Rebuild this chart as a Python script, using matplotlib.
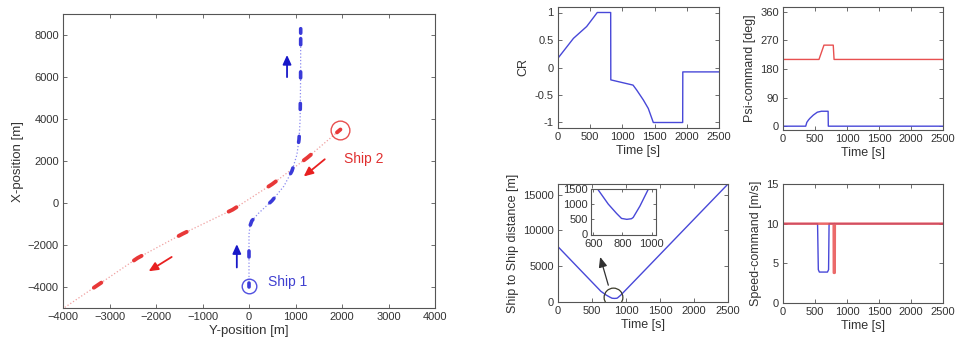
import numpy as np
import matplotlib
matplotlib.use("Agg")
import matplotlib.pyplot as plt

plt.rcParams['font.family'] = ['Liberation Sans', 'DejaVu Sans']

# ---------------- data ----------------
# Ship 1 (blue) trajectory: Y-position, X-position [m]
ship1_Y = [0, 0, 20, 60, 200, 495, 750, 925, 1030, 1076, 1100, 1110, 1112]
ship1_X = [-4000, -1500, -1100, -850, -500, 110, 800, 1530, 2300, 3030, 4000, 6000, 8300]
ship1_marks_X = [-3970, -2414, -914, 110, 1530, 3030, 4600, 6100, 7680, 8230]

# Ship 2 (red) trajectory
ship2_Y = [1966, 1256, 500, -351, -1427, -2395, -3256, -3865, -4000]
ship2_X = [3500, 2161, 900, -317, -1467, -2617, -3913, -4827, -5030]
ship2_marks_Y = [1966, 1256, 500, -351, -1427, -2395, -3256]

# CR vs time
cr_t = [0, 240, 445, 610, 818, 820, 1165, 1222, 1325, 1402, 1480, 1936, 1938, 2500]
cr_v = [0.17, 0.53, 0.745, 1.0, 1.0, -0.225, -0.32, -0.41, -0.59, -0.745, -1.0, -1.0, -0.08, -0.08]

# Psi-command [deg]
psi1_t = [0, 355, 372, 400, 422, 474, 536, 600, 705, 708, 2500]
psi1_v = [0, 0, 12, 20, 25, 35, 44, 47, 47, 0, 0]
psi2_t = [0, 562, 640, 785, 798, 2500]
psi2_v = [210, 210, 255, 255, 210, 210]

# Ship-to-ship distance [m]
dist_t = [0, 300, 600, 630, 703, 760, 794, 830, 862, 874, 920, 977, 1500, 2000, 2500]
dist_d = [7735, 4760, 1800, 1500, 1003, 695, 530, 500, 520, 563, 937, 1490, 6647, 11577, 16500]

# Speed-command [m/s]
sp1_t = [0, 540, 552, 568, 695, 712, 720, 2500]
sp1_v = [10, 10, 4.2, 3.9, 3.9, 4.2, 10, 10]
sp2_t = [0, 792, 794, 808, 810, 2500]
sp2_v = [10, 10, 3.8, 3.8, 10, 10]

BLUE = '#4848d8'
RED = '#e85050'
TXT = '#333333'

fig = plt.figure(figsize=(9.6, 3.49), dpi=100)


def style(ax, fs=8):
    ax.tick_params(direction='in', length=3, width=0.6, top=True, right=True,
                   labelsize=fs, colors='#555555', labelcolor=TXT, pad=3)
    for s in ax.spines.values():
        s.set_linewidth(0.8)
        s.set_color('#555555')


# ---------------- left: trajectories ----------------
ax = fig.add_axes([63/960, 1-308/349, 372/960, 294/349])
style(ax)
ax.set_xlim(-4000, 4000)
ax.set_ylim(-5000, 9000)
ax.set_xticks(np.arange(-4000, 4001, 1000))
ax.set_yticks(np.arange(-4000, 8001, 2000))
ax.set_xlabel('Y-position [m]', fontsize=9.5, color=TXT, labelpad=2)
ax.set_ylabel('X-position [m]', fontsize=9.5, color=TXT, labelpad=3)

ax.plot(ship1_Y, ship1_X, ':', color='#8a8af0', lw=0.9)
ax.plot(ship2_Y, ship2_X, ':', color='#f0a0a0', lw=0.9)

# pixel scale factors for marker orientation
sx, sy = 372/8000, 294/14000


def marks(Ys, Xs, pos, key, half, color, lw):
    Ys = np.asarray(Ys, float)
    Xs = np.asarray(Xs, float)
    px, py = Ys*sx, Xs*sy
    s = np.concatenate([[0], np.cumsum(np.hypot(np.diff(px), np.diff(py)))])
    for p in pos:
        if key == 'X':
            sm = np.interp(p, Xs, s)
        else:
            sm = np.interp(-p, -Ys, s)
        ss = np.linspace(sm-half, sm+half, 5)
        ax.plot(np.interp(ss, s, Ys), np.interp(ss, s, Xs), '-', color=color,
                lw=lw, solid_capstyle='round')


marks(ship1_Y, ship1_X, ship1_marks_X, 'X', 3.0, '#3a3ad8', 2.6)
marks(ship2_Y, ship2_X, ship2_marks_Y, 'Y', 4.5, '#e83838', 2.8)

ax.plot(ship1_Y[0], ship1_marks_X[0], 'o', mfc='none', mec='#5050e0', ms=10.5, mew=1.0)
ax.plot(ship2_Y[0], ship2_X[0], 'o', mfc='none', mec='#e85050', ms=13.5, mew=1.0)

ax.text(409, -3753, 'Ship 1', color='#4040d0', fontsize=10, va='center', ha='left')
ax.text(2038, 2115, 'Ship 2', color='#e03030', fontsize=10, va='center', ha='left')

for (x0, y0, x1, y1, c) in [(818, 5994, 818, 7050, '#1818c8'),
                            (-262, -3070, -262, -1960, '#1818c8'),
                            (1629, 2082, 1177, 1264, '#e82020'),
                            (-1663, -2570, -2158, -3251, '#e82020')]:
    ax.annotate('', xy=(x1, y1), xytext=(x0, y0),
                arrowprops=dict(arrowstyle='-|>,head_length=0.55,head_width=0.25',
                                color=c, lw=1.3, shrinkA=0, shrinkB=0))

# ---------------- CR ----------------
ax2 = fig.add_axes([558/960, 1-128/349, 161/960, 121/349])
style(ax2)
ax2.plot(cr_t, cr_v, color=BLUE, lw=1.0)
ax2.set_xlim(0, 2500)
ax2.set_ylim(-1.1, 1.1)
ax2.set_xticks(np.arange(0, 2501, 500))
ax2.set_yticks([-1, -0.5, 0, 0.5, 1])
ax2.set_yticklabels(['-1', '-0.5', '0', '0.5', '1'])
ax2.set_xlabel('Time [s]', fontsize=9, color=TXT, labelpad=2)
ax2.set_ylabel('CR', fontsize=9, color=TXT, labelpad=4)

# ---------------- Psi ----------------
ax3 = fig.add_axes([783/960, 1-130/349, 160/960, 123/349])
style(ax3)
ax3.plot(psi2_t, psi2_v, color=RED, lw=1.0)
ax3.plot(psi1_t, psi1_v, color=BLUE, lw=1.0)
ax3.set_xlim(0, 2500)
ax3.set_ylim(-12, 375)
ax3.set_xticks(np.arange(0, 2501, 500))
ax3.set_yticks([0, 90, 180, 270, 360])
ax3.set_xlabel('Time [s]', fontsize=9, color=TXT, labelpad=2)
ax3.set_ylabel('Psi-command [deg]', fontsize=9, color=TXT, labelpad=3)

# ---------------- distance ----------------
ax4 = fig.add_axes([558/960, 1-302/349, 170/960, 118/349])
style(ax4)
ax4.plot(dist_t, dist_d, color=BLUE, lw=1.0)
ax4.set_xlim(0, 2500)
ax4.set_ylim(0, 16500)
ax4.set_xticks(np.arange(0, 2501, 500))
ax4.set_yticks([0, 5000, 10000, 15000])
ax4.set_xlabel('Time [s]', fontsize=9, color=TXT, labelpad=2)
ax4.set_ylabel('Ship to Ship distance [m]', fontsize=9, color=TXT, labelpad=3)
ax4.plot(804, 700, 'o', mfc='none', mec='#3a3a2a', ms=13.5, mew=0.9)
ax4.annotate('', xy=(620, 6300), xytext=(740, 2350),
             arrowprops=dict(arrowstyle='-|>,head_length=0.6,head_width=0.25',
                             color='#303030', lw=0.9, shrinkA=0, shrinkB=0))

axi = fig.add_axes([591/960, 1-234.5/349, 65/960, 45.5/349])
style(axi, fs=8)
axi.tick_params(length=2)
axi.plot(dist_t, dist_d, color=BLUE, lw=1.0)
axi.set_xlim(585, 1030)
axi.set_ylim(0, 1500)
axi.set_xticks([600, 800, 1000])
axi.set_yticks([0, 500, 1000, 1500])
axi.tick_params(axis='x', pad=3)
axi.tick_params(axis='y', pad=2.5)

# ---------------- speed ----------------
ax5 = fig.add_axes([783/960, 1-303/349, 160/960, 119/349])
style(ax5)
ax5.plot(sp1_t, sp1_v, color=BLUE, lw=1.0)
ax5.plot(sp2_t, sp2_v, color=RED, lw=1.8, alpha=0.85)
ax5.set_xlim(0, 2500)
ax5.set_ylim(0, 15)
ax5.set_xticks(np.arange(0, 2501, 500))
ax5.set_yticks([0, 5, 10, 15])
ax5.set_xlabel('Time [s]', fontsize=9, color=TXT, labelpad=2)
ax5.set_ylabel('Speed-command [m/s]', fontsize=9, color=TXT, labelpad=3)

fig.savefig('out.png', dpi=100)
